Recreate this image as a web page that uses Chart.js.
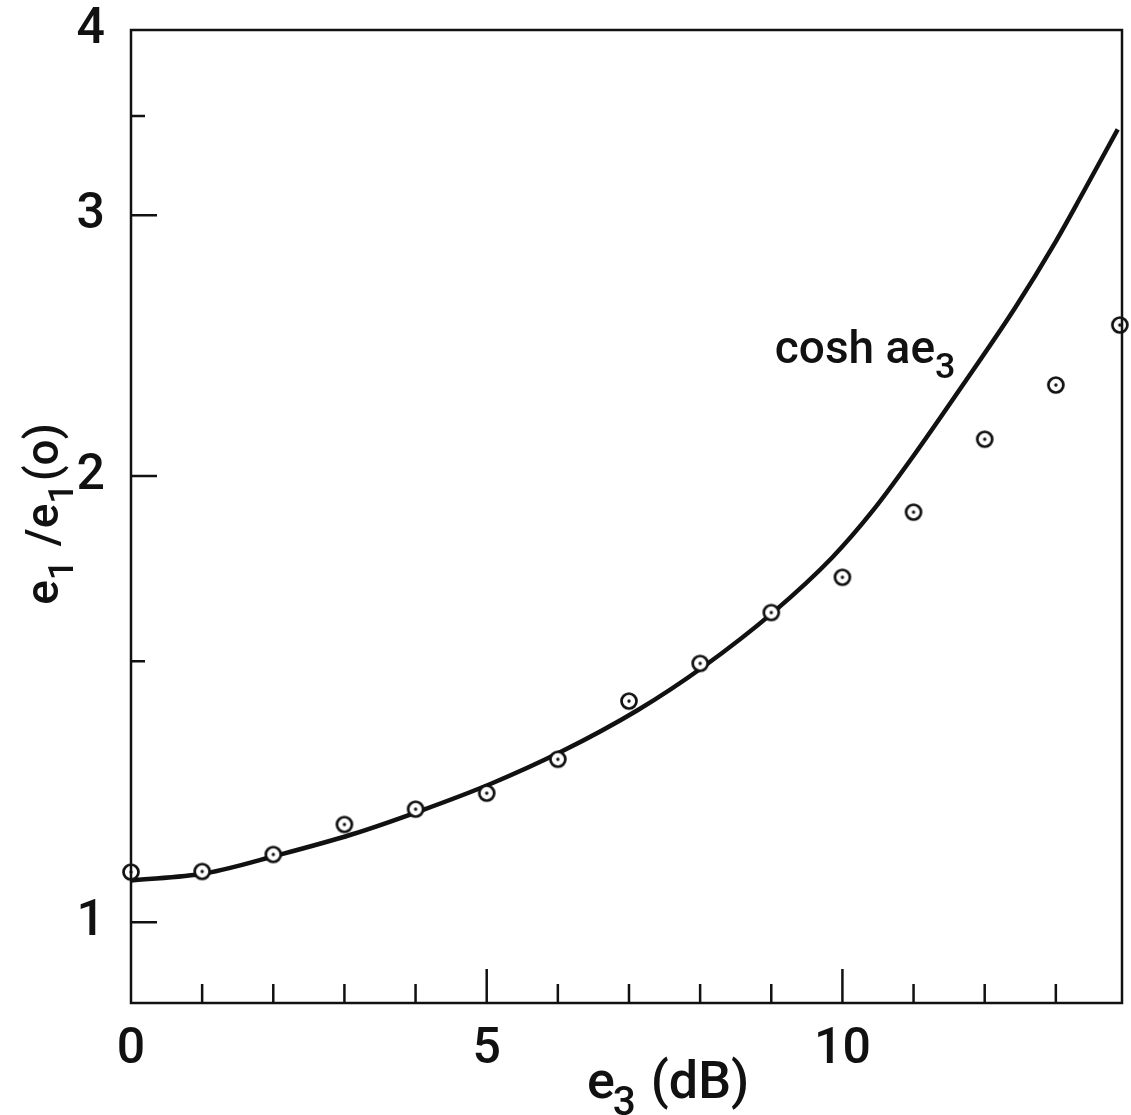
<!DOCTYPE html>
<html>
<head>
<meta charset="utf-8">
<script src="https://cdn.jsdelivr.net/npm/chart.js@4.4.0/dist/chart.umd.min.js"></script>
<style>
  html, body { margin: 0; padding: 0; background: #fff; }
  #wrap { width: 1131px; height: 1115px; }
</style>
</head>
<body>
<div id="wrap"><canvas id="chart" width="1131" height="1115"></canvas></div>
<script>
// measured points (circles)
const expX = [0, 1, 2, 3, 4, 5, 6, 7, 8, 9, 10, 11, 12, 13, 13.9];
const expY = [1.081, 1.082, 1.111, 1.164, 1.192, 1.222, 1.288, 1.410, 1.495, 1.618, 1.709, 1.891, 2.118, 2.304, 2.529];

// cosh a e3 curve
const curveX = [0, 1.05, 2.07, 3.10, 4.07, 5.06, 6.03, 7.12, 8.06, 9.03, 9.85, 10.43, 10.99, 11.69, 12.43, 12.99, 13.37, 13.87];
const curveY = [1.067, 1.079, 1.110, 1.146, 1.189, 1.240, 1.302, 1.390, 1.489, 1.619, 1.761, 1.896, 2.061, 2.303, 2.599, 2.875, 3.099, 3.428];

const xTicks = [0, 1, 2, 3, 4, 5, 6, 7, 8, 9, 10, 11, 12, 13];
const xMajor = [5, 10];
const xLabels = [0, 5, 10];
const yTicks = [1, 1.5, 2, 3, 3.5, 4];
const yLabels = [1, 2, 3, 4];

const FONT = 'Roboto, "DejaVu Sans", sans-serif';
const RIGHT_EDGE = 1127;

// circle with a dot in the middle
function dotCircle() {
    const c = document.createElement('canvas');
    c.width = 22; c.height = 22;
    const g = c.getContext('2d');
    g.beginPath();
    g.arc(11, 11, 7.5, 0, Math.PI * 2);
    g.fillStyle = '#fff';
    g.fill();
    g.lineWidth = 2.7;
    g.strokeStyle = '#111';
    g.stroke();
    g.beginPath();
    g.arc(11, 11, 1.7, 0, Math.PI * 2);
    g.fillStyle = '#111';
    g.fill();
    return c;
}

// text with subscripts, drawn from the current origin on the baseline
function richWidth(ctx, parts, size) {
    let w = 0;
    parts.forEach(p => {
        ctx.font = `500 ${p.sub ? size * 0.78 : size}px ${FONT}`;
        w += ctx.measureText(p.t).width + (p.dx || 0);
    });
    return w;
}
function richText(ctx, parts, size) {
    let x = 0;
    parts.forEach(p => {
        ctx.font = `500 ${p.sub ? size * 0.78 : size}px ${FONT}`;
        x += (p.dx || 0);
        ctx.fillText(p.t, x, p.sub ? size * 0.32 : 0);
        x += ctx.measureText(p.t).width;
    });
}

function noPad(s) {
    s.paddingTop = 0;
    s.paddingBottom = 0;
    s.paddingLeft = 0;
    s.paddingRight = 0;
}

const frame = {
    id: 'frame',
    afterDraw(chart) {
        const { ctx, chartArea: a, scales: { x, y } } = chart;
        ctx.save();
        ctx.strokeStyle = '#111';
        ctx.fillStyle = '#111';
        ctx.lineWidth = 2.5;
        ctx.strokeRect(a.left, a.top, a.right - a.left, a.bottom - a.top);

        // inward ticks
        ctx.beginPath();
        yTicks.forEach(v => {
            if (v === 4) return;
            const py = y.getPixelForValue(v);
            const len = yLabels.includes(v) ? 26 : 14;
            ctx.moveTo(a.left, py);
            ctx.lineTo(a.left + len, py);
        });
        xTicks.forEach(v => {
            if (v === 0) return;
            const px = x.getPixelForValue(v);
            const len = xMajor.includes(v) ? 34 : 19;
            ctx.moveTo(px, a.bottom);
            ctx.lineTo(px, a.bottom - len);
        });
        ctx.stroke();

        ctx.textAlign = 'left';
        ctx.textBaseline = 'alphabetic';

        // x title
        ctx.save();
        ctx.translate(587, 1098);
        richText(ctx, [{ t: 'e' }, { t: '3', sub: true, dx: -2 }, { t: ' (dB)', dx: 2 }], 52);
        ctx.restore();

        // y title
        const yParts = [{ t: 'e' }, { t: '1', sub: true }, { t: ' /e', dx: 2 }, { t: '1', sub: true }, { t: '(o)', dx: 2 }];
        const yw = richWidth(ctx, yParts, 46);
        ctx.save();
        ctx.translate(58, 514 + yw / 2);
        ctx.rotate(-Math.PI / 2);
        richText(ctx, yParts, 46);
        ctx.restore();

        // curve label
        ctx.save();
        ctx.translate(x.getPixelForValue(9.05), y.getPixelForValue(2.384));
        richText(ctx, [{ t: 'cosh ae' }, { t: '3', sub: true }], 46);
        ctx.restore();

        ctx.restore();
    }
};

const chart = new Chart(document.getElementById('chart'), {
    type: 'scatter',
    data: {
        datasets: [
            {
                label: 'measured',
                data: expX.map((v, i) => ({ x: v, y: expY[i] })),
                pointStyle: dotCircle(),
                pointRadius: 8,
                clip: false,
                order: 0
            },
            {
                label: 'cosh ae3',
                type: 'line',
                data: curveX.map((v, i) => ({ x: v, y: curveY[i] })),
                borderColor: '#111',
                borderWidth: 4.5,
                pointRadius: 0,
                cubicInterpolationMode: 'monotone',
                fill: false,
                order: 1
            }
        ]
    },
    options: {
        responsive: false,
        animation: false,
        devicePixelRatio: 1,
        layout: { padding: { top: 30, right: 4, left: 0, bottom: 0 } },
        plugins: {
            legend: { display: false },
            tooltip: { enabled: false }
        },
        scales: {
            x: {
                type: 'linear',
                min: 0,
                max: 13.93,
                grid: { display: false },
                border: { display: false },
                afterBuildTicks: s => { s.ticks = xTicks.map(v => ({ value: v })); },
                afterFit: s => { s.height = 112; noPad(s); },
                ticks: {
                    autoSkip: false,
                    maxRotation: 0,
                    padding: 9,
                    color: '#111',
                    font: { family: FONT, size: 50, weight: '500' },
                    callback: v => xLabels.includes(v) ? String(v) : ''
                }
            },
            y: {
                type: 'logarithmic',
                min: 0.882,
                max: 4,
                grid: { display: false },
                border: { display: false },
                afterBuildTicks: s => { s.ticks = yTicks.map(v => ({ value: v })); },
                afterFit: s => { s.width = 131; noPad(s); },
                ticks: {
                    autoSkip: false,
                    padding: 18,
                    color: '#111',
                    font: { family: FONT, size: 50, weight: '500' },
                    callback: v => yLabels.includes(v) ? String(v) : ''
                }
            }
        }
    },
    plugins: [frame]
});

// pull the right edge of the plot box out to where the reference has it
const gap = RIGHT_EDGE - chart.chartArea.right;
if (Math.abs(gap) > 0.5) {
    chart.options.layout.padding.right = 4 - gap;
    chart.update();
}
</script>
</body>
</html>
